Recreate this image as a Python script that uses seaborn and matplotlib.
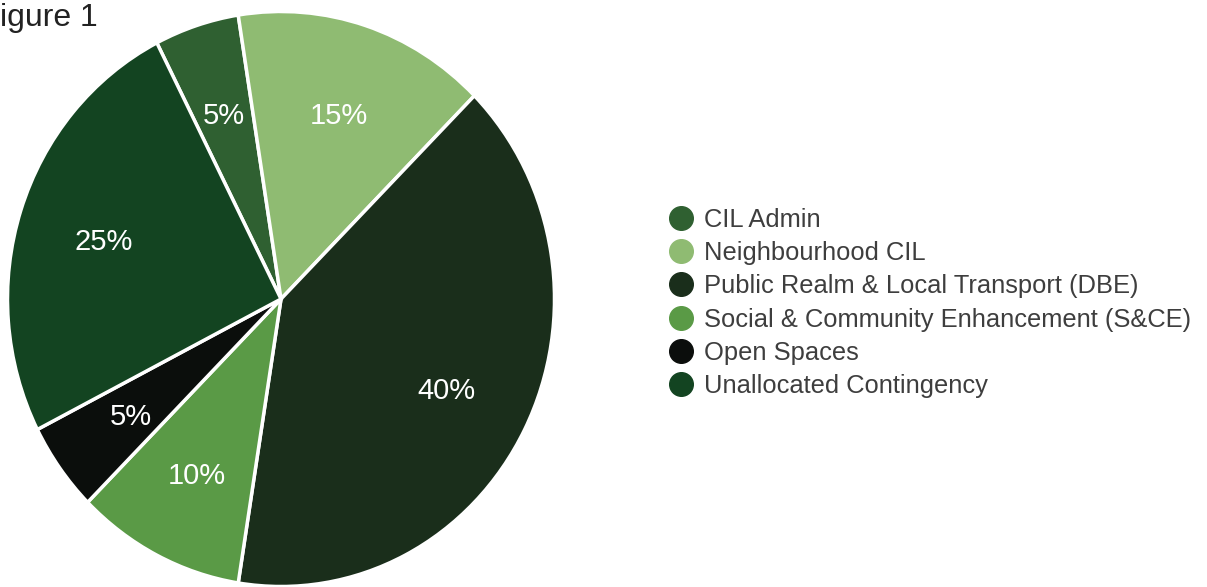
import matplotlib
matplotlib.use("Agg")
import matplotlib.pyplot as plt
from matplotlib.lines import Line2D
import seaborn as sns

# Allocation of CIL receipts (share of total, %)
categories = [
    "CIL Admin",
    "Neighbourhood CIL",
    "Public Realm & Local Transport (DBE)",
    "Social & Community Enhancement (S&CE)",
    "Open Spaces",
    "Unallocated Contingency",
]
shares = [5, 15, 40, 10, 5, 25]
slice_colors = ["#2f6031", "#8fbb72", "#1a2e1b", "#5a9a46", "#0b0e0c", "#134421"]

sns.set_theme(style="white")
plt.rcParams["font.family"] = ["Liberation Sans", "DejaVu Sans"]
palette = sns.color_palette(slice_colors)

fig = plt.figure(figsize=(12.07, 5.87), dpi=100)
W, H = 1207, 587

# Pie axes: slightly taller than wide, so the pie is a gentle ellipse
cx, cy, rx, ry = 281, 299, 273.5, 287.5
ax = fig.add_axes([(cx - rx) / W, (H - cy - ry) / H, 2 * rx / W, 2 * ry / H])
wedges, texts, autotexts = ax.pie(
    shares,
    colors=palette,
    startangle=117,
    counterclock=False,
    autopct=lambda p: f"{p:.0f}%",
    pctdistance=0.68,
    wedgeprops=dict(edgecolor="white", linewidth=2.5),
    textprops=dict(color="white", fontsize=21),
)
for t in autotexts:
    t.set_verticalalignment("center_baseline")
ax.set_aspect("auto")
ax.set_xlim(-1, 1)
ax.set_ylim(-1, 1)
ax.axis("off")

# Figure caption
fig.text(0, 1 - 18 / H, "igure 1", ha="left", va="center",
         fontsize=23, color="#222222")

handles = [
    Line2D([0], [0], marker="o", linestyle="none", markersize=17,
           markerfacecolor=c, markeredgecolor=c)
    for c in palette
]
fig.legend(
    handles, categories,
    loc="center left",
    bbox_to_anchor=(669 / W, 1 - 303 / H),
    frameon=False,
    fontsize=18.4,
    labelcolor="#3e3e3e",
    handlelength=0.9,
    handletextpad=0.45,
    labelspacing=0.36,
    borderpad=0,
    borderaxespad=0,
)

fig.savefig("out.png", dpi=100)
